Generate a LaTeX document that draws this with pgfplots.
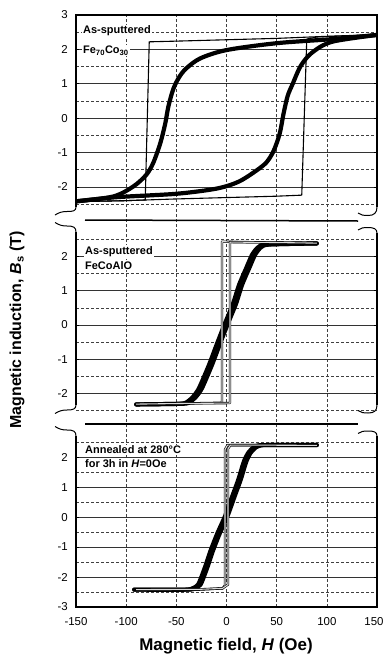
\documentclass[border=0pt]{standalone}
\usepackage{fontspec}
\setmainfont{Liberation Sans}
\usepackage{graphicx}
\usepackage{pgfplots}
\pgfplotsset{compat=1.18}

\pgfplotsset{
  panel/.style={
    scale only axis, width=301bp,
    xmin=-150, xmax=150,
    axis line style={draw=none},
    xtick={-150,-100,...,150},
    major x tick style={draw=none},
    ytick={-3,...,3},
    minor ytick={-2.5,-1.5,...,2.5},
    ymajorgrids, yminorgrids,
    major y grid style={black!80, line width=0.55bp},
    minor y grid style={black!75, line width=0.5bp, dash pattern=on 3bp off 2bp},
    tick align=inside,
    major tick length=3bp, minor tick length=0pt,
    y tick style={black, line width=0.6bp},
    yticklabel style={font=\fontsize{11.5}{11.5}\selectfont, anchor=east, inner sep=0pt, xshift=-8bp},
    xticklabel style={font=\fontsize{11.5}{11.5}\selectfont, anchor=north, inner sep=0pt, yshift=-10bp},
    /pgf/number format/assume math mode=true,
  },
  thick curve/.style={black, line width=4.2bp, line join=round, line cap=round},
  thin loop/.style={black, line width=1.1bp, line join=round},
  tube loop/.style={black, line width=0.6bp, double=white!85!black, double distance=1.1bp, line join=round},
}

\begin{document}
\begin{tikzpicture}
\path[use as bounding box] (0,0) rectangle (384bp,-665bp);

% background vertical grid spanning all panels
\begin{axis}[scale only axis, width=301bp, height=592bp, at={(76bp,-607bp)}, anchor=south west,
  xmin=-150, xmax=150, ymin=0, ymax=1, axis line style={draw=none},
  xtick={-100,-50,50,100}, ytick=\empty, xticklabels={}, major tick length=0pt,
  xmajorgrids, major x grid style={black!75, line width=0.5bp, dash pattern=on 3bp off 2bp},
  extra x ticks={0}, extra x tick labels={},
  extra x tick style={grid=major, major grid style={solid, black!80, line width=0.65bp}}]
\end{axis}

% ---------- Panel 1: as-sputtered Fe70Co30 ----------
\begin{axis}[panel, at={(76bp,-212bp)}, anchor=south west, height=197bp,
  ymin=-2.73, ymax=3, xticklabels={}]
\addplot[thin loop] coordinates {
 (150,2.43) (100,2.38) (50,2.32) (0,2.28) (-50,2.24) (-77,2.22)
 (-81,-2.38) (-100,-2.40) (-150,-2.43)};
\addplot[thin loop] coordinates {
 (-150,-2.43) (-100,-2.40) (-50,-2.35) (0,-2.31) (50,-2.27) (75,-2.24)
 (80,2.30) (90,2.36) (150,2.43)};
\addplot[thick curve, smooth, tension=0.5] coordinates {
 (150,2.42) (106,2.30) (50,2.18) (0,1.98) (-26,1.74) (-40,1.45) (-47,1.2) (-53,0.85)
 (-58,0.33) (-61,-0.15) (-66,-0.73) (-73,-1.30) (-80,-1.65) (-93,-1.99) (-113,-2.28) (-150,-2.42)};
\addplot[thick curve, smooth, tension=0.5] coordinates {
 (-150,-2.42) (-110,-2.30) (-50,-2.20) (-10,-2.05) (12,-1.85) (30,-1.52) (40,-1.28) (47,-0.95)
 (53,-0.45) (57,0.15) (61,0.65) (66,1.00) (74,1.52) (85,1.90) (105,2.22) (150,2.42)};
\end{axis}

% ---------- Panel 2: as-sputtered FeCoAlO ----------
\begin{axis}[panel, at={(76bp,-413bp)}, anchor=south west, height=186bp,
  ymin=-2.57, ymax=2.86, xticklabels={}]
\addplot[thick curve, smooth, tension=0.4] coordinates {
 (90,2.38) (40,2.35) (31.5,2.27) (25.5,2.05) (19.5,1.65) (12.5,1.17) (6.5,0.62) (-1.5,0.05)
 (-9.5,-0.55) (-17.5,-1.17) (-27.5,-1.85) (-33.5,-2.10) (-39.5,-2.25) (-46.5,-2.30) (-90,-2.32)};
\addplot[thick curve, smooth, tension=0.4] coordinates {
 (-90,-2.32) (-43.5,-2.30) (-36.5,-2.25) (-30.5,-2.10) (-24.5,-1.85) (-14.5,-1.17) (-6.5,-0.55)
 (1.5,0.05) (9.5,0.62) (15.5,1.17) (22.5,1.65) (28.5,2.05) (34.5,2.27) (43,2.35) (90,2.38)};
\addplot[tube loop] coordinates {
 (90,2.39) (40,2.41) (-4.5,2.43) (-4.5,-2.27) (-40,-2.29) (-90,-2.31)};
\addplot[tube loop] coordinates {
 (-90,-2.31) (-40,-2.29) (3.5,-2.28) (3.5,2.42) (40,2.41) (90,2.39)};
\end{axis}

% ---------- Panel 3: annealed ----------
\begin{axis}[panel, at={(76bp,-607bp)}, anchor=south west, height=176bp,
  ymin=-3, ymax=2.87,
  xticklabels={-150,-100,-50,0,50,100,{\hspace*{-6bp}150}}]
\addplot[thick curve, smooth, tension=0.4] coordinates {
 (90,2.40) (40,2.40) (31.8,2.39) (26.8,2.32) (21.8,2.15) (17.3,1.85) (11.8,1.25) (5.8,0.70)
 (-1.2,0.05) (-9.2,-0.55) (-16.2,-1.15) (-21.2,-1.65) (-28.2,-2.25) (-34.2,-2.38) (-41.2,-2.42) (-92,-2.42)};
\addplot[thick curve, smooth, tension=0.4] coordinates {
 (-92,-2.42) (-38.8,-2.42) (-31.8,-2.38) (-25.8,-2.25) (-18.8,-1.65) (-13.8,-1.15) (-6.8,-0.55)
 (1.2,0.05) (8.2,0.70) (14.2,1.25) (19.7,1.85) (24.2,2.15) (29.2,2.32) (34.2,2.39) (41.2,2.40) (90,2.40)};
\addplot[tube loop] coordinates {
 (90,2.39) (30,2.40) (1,2.40) (-1.5,2.25) (-1.5,-2.28) (-4,-2.38) (-27,-2.42) (-90,-2.42)};
\addplot[tube loop] coordinates {
 (-90,-2.42) (-27,-2.41) (-4,-2.38) (1.5,-2.25) (1.5,2.28) (4,2.40) (30,2.40) (90,2.39)};
\end{axis}

% ---------- frames, breaks and separators ----------
\begin{scope}[line width=1.5bp, black]
 \draw (76bp,-207bp) -- (76bp,-15bp) -- (377bp,-15bp) -- (377bp,-207bp);
 \draw (76bp,-232bp) -- (76bp,-405bp);
 \draw (377bp,-233bp) -- (377bp,-405bp);
 \draw (76bp,-436bp) -- (76bp,-607bp) -- (377bp,-607bp) -- (377bp,-436bp);
 \draw (85bp,-220bp) -- (358bp,-221bp);
 \draw (85bp,-424bp) -- (358bp,-424bp);
\end{scope}
\begin{scope}[line width=1bp, black]
 % P1 bottom
 \draw (76bp,-207bp) .. controls (76bp,-211bp) and (73bp,-211.5bp) .. (67bp,-211.5bp) .. controls (62bp,-211.5bp) and (59bp,-212.5bp) .. (55bp,-215bp);
 \draw (377bp,-207bp) .. controls (377bp,-213bp) and (374bp,-215.5bp) .. (368bp,-215.5bp) .. controls (363bp,-215.5bp) and (361bp,-215bp) .. (358bp,-213bp);
 % P2 top
 \draw (76bp,-232bp) .. controls (76bp,-227bp) and (73bp,-226bp) .. (67bp,-226bp) .. controls (62bp,-226bp) and (59bp,-225bp) .. (55bp,-222.5bp);
 \draw (377bp,-233bp) .. controls (377bp,-229bp) and (374bp,-227.5bp) .. (368bp,-227.5bp) .. controls (363bp,-227.5bp) and (361bp,-228bp) .. (358bp,-230bp);
 % P2 bottom
 \draw (76bp,-405bp) .. controls (76bp,-409bp) and (73bp,-410bp) .. (67bp,-410bp) .. controls (62bp,-410bp) and (59bp,-411bp) .. (55bp,-413.5bp);
 \draw (377bp,-405bp) .. controls (377bp,-411bp) and (374bp,-413bp) .. (368bp,-413bp) .. controls (363bp,-413bp) and (361bp,-412.5bp) .. (358bp,-410.5bp);
 % P3 top
 \draw (76bp,-436bp) .. controls (76bp,-431bp) and (73bp,-430bp) .. (67bp,-430bp) .. controls (62bp,-430bp) and (59bp,-429bp) .. (55bp,-426.5bp);
 \draw (377bp,-436bp) .. controls (377bp,-432bp) and (374bp,-431bp) .. (368bp,-431bp) .. controls (363bp,-431bp) and (361bp,-431.5bp) .. (358bp,-433.5bp);
\end{scope}

% ---------- annotations ----------
\begin{scope}[every node/.style={anchor=base west, fill=white, inner sep=1bp, font=\bfseries\fontsize{11}{13}\selectfont}]
 \node at (82bp,-33.5bp) {As-sputtered};
 \node at (82bp,-53.5bp) {Fe\textsubscript{70}Co\textsubscript{30}};
 \node at (84bp,-254bp) {As-sputtered};
 \node at (84bp,-269bp) {FeCoAlO};
 \node at (84bp,-453.5bp) {Annealed at 280\textdegree C};
 \node at (84bp,-467.5bp) {for 3h in \textit{H}=0Oe};
\end{scope}

% ---------- axis titles ----------
\node[rotate=90, anchor=center, font=\bfseries\fontsize{16}{16}\selectfont] at (17bp,-330bp)
  {Magnetic induction, \textit{B}\textsubscript{s} (T)};
\node[anchor=base, font=\bfseries\fontsize{17}{17}\selectfont] at (226bp,-650bp)
  {Magnetic field, \textit{H} (Oe)};
\end{tikzpicture}
\end{document}
